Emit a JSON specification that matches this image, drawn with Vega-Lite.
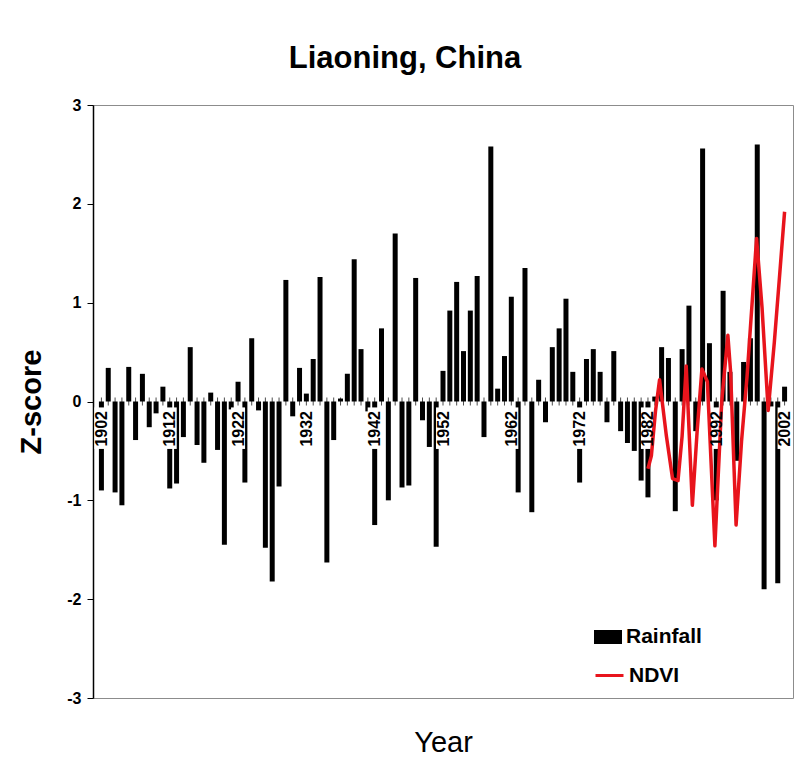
{
  "$schema": "https://vega.github.io/schema/vega-lite/v6.json",
  "width": 700,
  "height": 593,
  "autosize": {"type": "none"},
  "padding": {"left": 93, "top": 105, "right": 4, "bottom": 66},
  "background": "white",
  "config": {"view": {"stroke": "#8c8c8c", "strokeWidth": 1}, "font": "Liberation Sans"},
  "title": {"text": "Liaoning, China", "fontSize": 31, "fontWeight": "bold", "font": "Liberation Sans", "color": "black", "anchor": "middle", "dx": -38, "offset": 22},
  "datasets": {
    "rain": [
      {"Year":1902,"Rainfall":-0.9},{"Year":1903,"Rainfall":0.34},{"Year":1904,"Rainfall":-0.92},{"Year":1905,"Rainfall":-1.05},{"Year":1906,"Rainfall":0.35},
      {"Year":1907,"Rainfall":-0.39},{"Year":1908,"Rainfall":0.28},{"Year":1909,"Rainfall":-0.26},{"Year":1910,"Rainfall":-0.12},{"Year":1911,"Rainfall":0.15},
      {"Year":1912,"Rainfall":-0.88},{"Year":1913,"Rainfall":-0.83},{"Year":1914,"Rainfall":-0.36},{"Year":1915,"Rainfall":0.55},{"Year":1916,"Rainfall":-0.44},
      {"Year":1917,"Rainfall":-0.62},{"Year":1918,"Rainfall":0.09},{"Year":1919,"Rainfall":-0.49},{"Year":1920,"Rainfall":-1.45},{"Year":1921,"Rainfall":-0.08},
      {"Year":1922,"Rainfall":0.2},{"Year":1923,"Rainfall":-0.82},{"Year":1924,"Rainfall":0.64},{"Year":1925,"Rainfall":-0.09},{"Year":1926,"Rainfall":-1.48},
      {"Year":1927,"Rainfall":-1.82},{"Year":1928,"Rainfall":-0.86},{"Year":1929,"Rainfall":1.23},{"Year":1930,"Rainfall":-0.15},{"Year":1931,"Rainfall":0.34},
      {"Year":1932,"Rainfall":0.08},{"Year":1933,"Rainfall":0.43},{"Year":1934,"Rainfall":1.26},{"Year":1935,"Rainfall":-1.63},{"Year":1936,"Rainfall":-0.39},
      {"Year":1937,"Rainfall":0.03},{"Year":1938,"Rainfall":0.28},{"Year":1939,"Rainfall":1.44},{"Year":1940,"Rainfall":0.53},{"Year":1941,"Rainfall":-0.1},
      {"Year":1942,"Rainfall":-1.25},{"Year":1943,"Rainfall":0.74},{"Year":1944,"Rainfall":-1.0},{"Year":1945,"Rainfall":1.7},{"Year":1946,"Rainfall":-0.87},
      {"Year":1947,"Rainfall":-0.85},{"Year":1948,"Rainfall":1.25},{"Year":1949,"Rainfall":-0.19},{"Year":1950,"Rainfall":-0.46},{"Year":1951,"Rainfall":-1.47},
      {"Year":1952,"Rainfall":0.31},{"Year":1953,"Rainfall":0.92},{"Year":1954,"Rainfall":1.21},{"Year":1955,"Rainfall":0.51},{"Year":1956,"Rainfall":0.92},
      {"Year":1957,"Rainfall":1.27},{"Year":1958,"Rainfall":-0.36},{"Year":1959,"Rainfall":2.58},{"Year":1960,"Rainfall":0.13},{"Year":1961,"Rainfall":0.46},
      {"Year":1962,"Rainfall":1.06},{"Year":1963,"Rainfall":-0.92},{"Year":1964,"Rainfall":1.35},{"Year":1965,"Rainfall":-1.12},{"Year":1966,"Rainfall":0.22},
      {"Year":1967,"Rainfall":-0.21},{"Year":1968,"Rainfall":0.55},{"Year":1969,"Rainfall":0.74},{"Year":1970,"Rainfall":1.04},{"Year":1971,"Rainfall":0.3},
      {"Year":1972,"Rainfall":-0.82},{"Year":1973,"Rainfall":0.43},{"Year":1974,"Rainfall":0.53},{"Year":1975,"Rainfall":0.3},{"Year":1976,"Rainfall":-0.21},
      {"Year":1977,"Rainfall":0.51},{"Year":1978,"Rainfall":-0.3},{"Year":1979,"Rainfall":-0.42},{"Year":1980,"Rainfall":-0.5},{"Year":1981,"Rainfall":-0.8},
      {"Year":1982,"Rainfall":-0.97},{"Year":1983,"Rainfall":0.05},{"Year":1984,"Rainfall":0.55},{"Year":1985,"Rainfall":0.44},{"Year":1986,"Rainfall":-1.11},
      {"Year":1987,"Rainfall":0.53},{"Year":1988,"Rainfall":0.97},{"Year":1989,"Rainfall":-0.3},{"Year":1990,"Rainfall":2.56},{"Year":1991,"Rainfall":0.59},
      {"Year":1992,"Rainfall":-1.0},{"Year":1993,"Rainfall":1.12},{"Year":1994,"Rainfall":0.3},{"Year":1995,"Rainfall":-0.6},{"Year":1996,"Rainfall":0.4},
      {"Year":1997,"Rainfall":0.64},{"Year":1998,"Rainfall":2.6},{"Year":1999,"Rainfall":-1.9},{"Year":2000,"Rainfall":-0.05},{"Year":2001,"Rainfall":-1.84},
      {"Year":2002,"Rainfall":0.15}
    ],
    "ndvi": [
      {"Year":1982.0,"NDVI":-0.68},{"Year":1982.5,"NDVI":-0.55},{"Year":1983.1,"NDVI":-0.1},{"Year":1983.7,"NDVI":0.22},{"Year":1984.7,"NDVI":-0.35},
      {"Year":1985.6,"NDVI":-0.78},{"Year":1986.4,"NDVI":-0.8},{"Year":1987.0,"NDVI":-0.35},{"Year":1987.6,"NDVI":0.36},{"Year":1988.5,"NDVI":-1.05},
      {"Year":1989.2,"NDVI":-0.3},{"Year":1989.9,"NDVI":0.33},{"Year":1990.7,"NDVI":0.2},{"Year":1991.8,"NDVI":-1.46},{"Year":1992.8,"NDVI":0.0},
      {"Year":1993.7,"NDVI":0.67},{"Year":1994.1,"NDVI":0.3},{"Year":1994.9,"NDVI":-1.25},{"Year":1995.7,"NDVI":-0.4},{"Year":1996.5,"NDVI":0.25},
      {"Year":1997.9,"NDVI":1.65},{"Year":1998.7,"NDVI":0.95},{"Year":1999.6,"NDVI":-0.09},{"Year":2000.5,"NDVI":0.6},{"Year":2001.3,"NDVI":1.3},
      {"Year":2002.0,"NDVI":1.92}
    ],
    "labels": [
      {"Year":1902},{"Year":1912},{"Year":1922},{"Year":1932},{"Year":1942},{"Year":1952},
      {"Year":1962},{"Year":1972},{"Year":1982},{"Year":1992},{"Year":2002}
    ]
  },
  "layer": [
    {
      "data": {"name": "rain"},
      "mark": {"type": "bar", "size": 5},
      "encoding": {
        "x": {"field": "Year", "type": "quantitative",
          "scale": {"domain": [1901.5, 2002.5], "nice": false, "zero": false},
          "axis": {"title": "Year", "values": [1902,1912,1922,1932,1942,1952,1962,1972,1982,1992,2002],
            "format": "d", "offset": -296.5, "domain": false, "ticks": false, "grid": false,
            "labelAngle": -90, "labelFont": "Liberation Sans", "labelFontSize": 16, "labelFontWeight": "bold",
            "labelColor": "black", "labelPadding": 9, "labelOverlap": false, "labelFlush": false, "zindex": 2,
            "titleFont": "Liberation Sans", "titleFontSize": 29, "titleFontWeight": "normal", "titleColor": "black",
            "titleY": 350, "titleBaseline": "alphabetic"}},
        "y": {"field": "Rainfall", "type": "quantitative",
          "scale": {"domain": [-3, 3], "nice": false},
          "axis": {"title": "Z-score", "values": [-3,-2,-1,0,1,2,3], "labelExpr": "'' + datum.value", "grid": false, "domainColor": "black", "domainWidth": 1.5,
            "tickColor": "black", "tickSize": 6, "labelFont": "Liberation Sans", "labelFontSize": 16, "labelFontWeight": "bold",
            "labelColor": "black", "labelPadding": 6,
            "titleFont": "Liberation Sans", "titleFontSize": 29, "titleFontWeight": "bold", "titleColor": "black",
            "titleX": -62, "titleBaseline": "middle"}},
        "fill": {"datum": "Rainfall", "type": "nominal",
          "scale": {"domain": ["Rainfall"], "range": ["black"]},
          "legend": {"orient": "none", "legendX": 501, "legendY": 518, "title": null, "padding": 0,
            "symbolType": "M-1,-0.5H1V0.5H-1Z", "symbolSize": 784, "symbolStrokeWidth": 0, "symbolOpacity": 1,
            "labelFont": "Liberation Sans", "labelFontSize": 21, "labelFontWeight": "bold", "labelColor": "black", "labelOffset": 4}}
      }
    },
    {
      "data": {"name": "labels"},
      "mark": {"type": "bar", "size": 14, "color": "white"},
      "encoding": {
        "x": {"field": "Year", "type": "quantitative"},
        "y": {"datum": -0.06},
        "y2": {"datum": -0.48}
      }
    },
    {
      "data": {"name": "rain"},
      "mark": {"type": "tick", "orient": "vertical", "size": 8, "thickness": 1, "color": "black"},
      "encoding": {
        "x": {"field": "Year", "type": "quantitative"},
        "y": {"datum": 0}
      }
    },
    {
      "mark": {"type": "rule", "color": "black", "strokeWidth": 2},
      "encoding": {"y": {"datum": 0}}
    },
    {
      "data": {"name": "ndvi"},
      "mark": {"type": "line", "strokeWidth": 3.5, "strokeJoin": "round"},
      "encoding": {
        "x": {"field": "Year", "type": "quantitative"},
        "y": {"field": "NDVI", "type": "quantitative"},
        "stroke": {"datum": "NDVI", "type": "nominal",
          "scale": {"domain": ["NDVI"], "range": ["#e8141c"]},
          "legend": {"orient": "none", "legendX": 501, "legendY": 555, "title": null, "padding": 0,
            "symbolType": "stroke", "symbolSize": 784, "symbolStrokeWidth": 3,
            "labelFont": "Liberation Sans", "labelFontSize": 21, "labelFontWeight": "bold", "labelColor": "black", "labelOffset": 4}}
      }
    }
  ]
}
